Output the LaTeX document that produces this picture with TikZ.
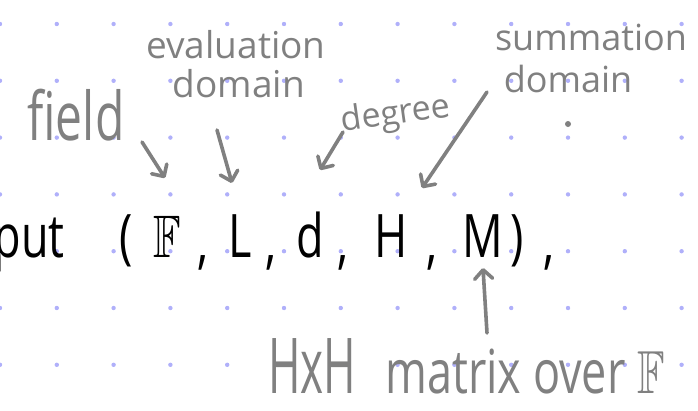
\documentclass[tikz,border=0pt]{standalone}
\usepackage{amssymb}
\usepackage{fontspec}
\setmainfont{Open Sans}
\usetikzlibrary{arrows.meta}
\definecolor{nbink}{HTML}{000000}
\definecolor{nbpencil}{HTML}{808080}
\definecolor{nbdot}{HTML}{B0B0FA}
\tikzset{
  inkglyph/.style={text=nbink,inner sep=0pt,anchor=base,
    font=\fontsize{60}{60}\selectfont,xscale=0.75,transform shape},
  notelabel/.style={text=nbpencil,inner sep=0pt,anchor=base,transform shape},
  notearrow/.style={draw=nbpencil,line width=3.6pt,line cap=round,
    -{Straight Barb[length=9pt,width=18pt,round]}},
  griddot/.style={fill=nbdot},
}

\begin{document}
\begin{tikzpicture}[x=1pt,y=-1pt]
  \path[use as bounding box] (0,0) rectangle (698,410);
  \foreach \i in {0,...,12}
    {\foreach \j in {0,...,6}
      {\fill[griddot] (56.8*\i,24+56.8*\j) circle (2.2);}}
  % the tuple
  \node[inkglyph,anchor=base east] (put) at (65,257) {put};
  \foreach \n/\x/\t in {lparen/126/{(},bbF/167/{$\mathbb{F}$},L/240/L,
    d/310/d,H/391/H,M/483/M,rparen/517/{)}}
    {\node[inkglyph] (\n) at (\x,257) {\t};}
  \foreach \i/\x in {1/203,2/271,3/343,4/432,5/549}
    {\node[inkglyph] (comma\i) at (\x,262) {,};}
  % notes
  \node[notelabel,font=\fontsize{48}{48}\selectfont,yscale=1.4] (field) at (76,140) {field};
  \node[notelabel,font=\fontsize{37}{37}\selectfont] (evaluation) at (236,58) {evaluation};
  \node[notelabel,font=\fontsize{37}{37}\selectfont] (evaldomain) at (239,97) {domain};
  \node[notelabel,font=\fontsize{34}{34}\selectfont,rotate=8] (degree) at (397,124) {degree};
  \node[notelabel,font=\fontsize{36}{36}\selectfont] (summation) at (591,50) {summation};
  \node[notelabel,font=\fontsize{36}{36}\selectfont] (sumdomain) at (568,92) {domain};
  \node[notelabel,font=\fontsize{44}{44}\selectfont,yscale=1.75] (hxh) at (312,393) {HxH};
  \node[notelabel,font=\fontsize{45}{45}\selectfont,yscale=1.35] (matrix) at (525,393) {matrix over $\mathbb{F}$};
  \fill[nbpencil] ([shift={(0,32)}]sumdomain.base) circle (3);
  \draw[notearrow] ([shift={(66,2)}]field.base) -- ([shift={(-2,-79)}]bbF.base);
  \draw[notearrow] ([shift={(-22,33)}]evaldomain.base) -- ([shift={(-8,-74)}]L.base);
  \draw[notearrow] ([shift={(-54,8)}]degree.base) -- ([shift={(10,-87)}]d.base);
  \draw[notearrow] ([shift={(-81,0)}]sumdomain.base) -- ([shift={(31,-69)}]H.base);
  \draw[notearrow] ([shift={(-38,-60)}]matrix.base) -- ([shift={(0,11)}]M.base);
\end{tikzpicture}
\end{document}
